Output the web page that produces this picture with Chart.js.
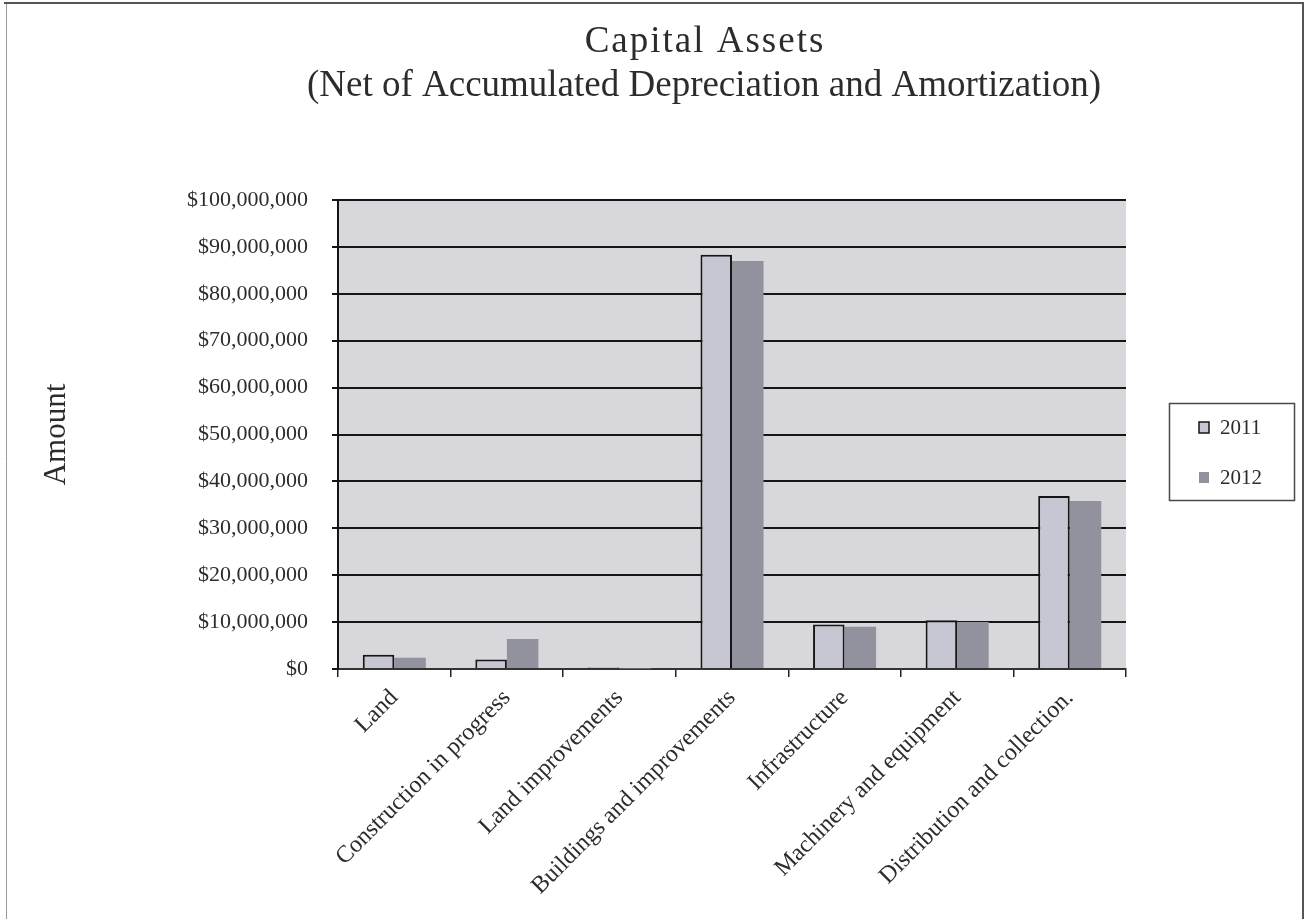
<!DOCTYPE html>
<html>
<head>
<meta charset="utf-8">
<title>Capital Assets</title>
<script src="https://cdn.jsdelivr.net/npm/chart.js@4.4.1/dist/chart.umd.min.js"></script>
<style>
  html, body { margin: 0; padding: 0; background: #fff; }
  #wrap { width: 1306px; height: 919px; }
</style>
</head>
<body>
<div id="wrap"><canvas id="assets-chart"></canvas></div>
<script>
const categories = [
    'Land',
    'Construction in progress',
    'Land improvements',
    'Buildings and improvements',
    'Infrastructure',
    'Machinery and equipment',
    'Distribution and collection.'
];
const yearLabels = ['2011', '2012'];
const values2011 = [3050000, 2000000, 300000, 88300000, 9500000, 10400000, 36900000];
const values2012 = [2400000, 6400000, 100000, 87000000, 9000000, 10000000, 35800000];
const titleLines = ['Capital Assets', '(Net of Accumulated Depreciation and Amortization)'];
const yAxisTitle = 'Amount';
const yMax = 100000000;
const yStep = 10000000;

const serif = '"Liberation Serif", "Times New Roman", serif';
const inkColor = '#2c2c2c';

// plot background, page frame, heading and the year key
const decorations = {
    id: 'decorations',
    beforeDraw(chart) {
        const { ctx, chartArea: a } = chart;
        ctx.save();
        ctx.fillStyle = '#ffffff';
        ctx.fillRect(0, 0, chart.width, chart.height);
        ctx.fillStyle = '#d7d7dc';
        ctx.fillRect(a.left, a.top, a.right - a.left, a.bottom - a.top);
        ctx.restore();
    },
    afterDraw(chart) {
        const { ctx } = chart;
        ctx.save();

        ctx.strokeStyle = '#555';
        ctx.lineWidth = 2;
        ctx.beginPath();
        ctx.moveTo(1303, chart.height);
        ctx.lineTo(1303, 3);
        ctx.lineTo(4, 3);
        ctx.stroke();
        ctx.strokeStyle = '#9a9a9a';
        ctx.lineWidth = 1;
        ctx.beginPath();
        ctx.moveTo(6.5, 4);
        ctx.lineTo(6.5, chart.height);
        ctx.stroke();

        ctx.fillStyle = inkColor;
        ctx.font = `37px ${serif}`;
        ctx.textAlign = 'center';
        ctx.textBaseline = 'middle';
        titleLines.forEach((line, i) => {
            ctx.letterSpacing = i === 0 ? '2px' : '0px';
            ctx.fillText(line, 704 + (i === 0 ? 1 : 0), 42 + i * 44);
        });
        ctx.letterSpacing = '0px';

        // key box
        ctx.strokeStyle = '#4a4a4a';
        ctx.lineWidth = 1.5;
        ctx.strokeRect(1169.5, 403.5, 125, 97);
        ctx.font = `21px ${serif}`;
        ctx.textAlign = 'left';
        chart.data.datasets.forEach((ds, i) => {
            const cy = 427 + i * 50;
            ctx.fillStyle = ds.backgroundColor;
            ctx.fillRect(1199, cy - 5, 10, 11);
            if (ds.borderColor && i === 0) {
                ctx.strokeStyle = ds.borderColor;
                ctx.lineWidth = 1.5;
                ctx.strokeRect(1199, cy - 5, 10, 11);
            }
            ctx.fillStyle = inkColor;
            ctx.fillText(ds.label, 1220, cy + 1);
        });
        ctx.restore();
    }
};

const ctx = document.getElementById('assets-chart').getContext('2d');

new Chart(ctx, {
    type: 'bar',
    data: {
        labels: categories,
        datasets: [{
            label: yearLabels[0],
            data: values2011,
            backgroundColor: '#c7c7d4',
            borderColor: '#151515',
            borderWidth: { top: 2, left: 2, right: 2, bottom: 0 },
            borderSkipped: false
        }, {
            label: yearLabels[1],
            data: values2012,
            backgroundColor: '#92929e',
            borderWidth: 0
        }]
    },
    options: {
        responsive: true,
        maintainAspectRatio: false,
        animation: false,
        datasets: {
            bar: { barPercentage: 1, categoryPercentage: 0.56 }
        },
        layout: {
            padding: { top: 200, right: 180, bottom: 0, left: 0 }
        },
        plugins: {
            legend: { display: false },
            title: { display: false },
            tooltip: { enabled: false }
        },
        scales: {
            x: {
                grid: {
                    offset: true,
                    drawOnChartArea: false,
                    drawTicks: true,
                    tickLength: 8,
                    color: '#222',
                    lineWidth: 1.5
                },
                border: { display: true, color: '#333', width: 2 },
                ticks: {
                    autoSkip: false,
                    minRotation: 45,
                    maxRotation: 45,
                    padding: 7,
                    color: inkColor,
                    font: { family: serif, size: 24 }
                },
                afterFit(scale) {
                    scale.height = 250;
                }
            },
            y: {
                min: 0,
                max: yMax,
                grid: {
                    color: '#151515',
                    lineWidth: 2,
                    tickLength: 6
                },
                border: { display: true, color: '#151515', width: 2 },
                ticks: {
                    stepSize: yStep,
                    padding: 24,
                    color: inkColor,
                    font: { family: serif, size: 22 },
                    callback: value => '$' + value.toLocaleString('en-US')
                },
                title: {
                    display: true,
                    text: yAxisTitle,
                    color: inkColor,
                    font: { family: serif, size: 31 },
                    padding: { top: 38, bottom: 0 }
                },
                afterFit(scale) {
                    scale.width = 338;
                }
            }
        }
    },
    plugins: [decorations]
});
</script>
</body>
</html>
